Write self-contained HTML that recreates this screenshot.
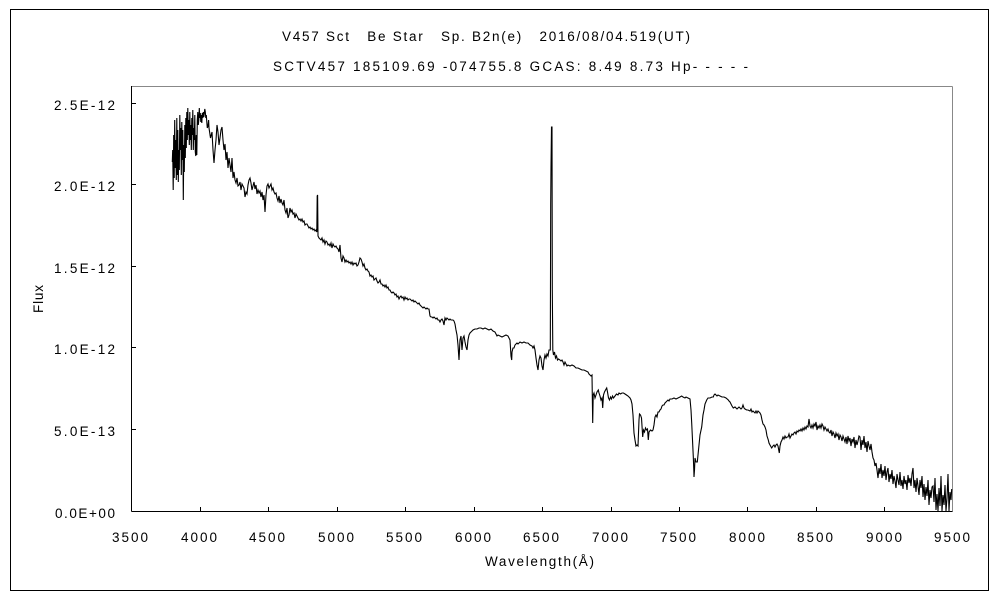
<!DOCTYPE html>
<html>
<head>
<meta charset="utf-8">
<style>
html,body{margin:0;padding:0;background:#fff;}
svg{display:block;}
text{font-family:"Liberation Sans","Noto Sans CJK JP",sans-serif;fill:#000;}
</style>
</head>
<body>
<svg width="1000" height="600" viewBox="0 0 1000 600" xmlns="http://www.w3.org/2000/svg">
<rect x="0" y="0" width="1000" height="600" fill="#fff"/>
<!-- outer frame -->
<rect x="10.5" y="9.5" width="978" height="581" fill="none" stroke="#000" stroke-width="1"/>

<!-- titles -->
<text x="282" y="41" font-size="13.5" textLength="408" lengthAdjust="spacing" xml:space="preserve">V457 Sct   Be Star   Sp. B2n(e)   2016/08/04.519(UT)</text>
<text x="273" y="71" font-size="13.5" textLength="475" lengthAdjust="spacing" xml:space="preserve">SCTV457 185109.69 -074755.8 GCAS: 8.49 8.73 Hp- - - - -</text>

<!-- plot frame -->
<line x1="131.5" y1="86.5" x2="952.5" y2="86.5" stroke="#888" stroke-width="1"/>
<line x1="952.5" y1="86.5" x2="952.5" y2="511.5" stroke="#888" stroke-width="1"/>
<line x1="131.5" y1="86" x2="131.5" y2="511.5" stroke="#000" stroke-width="1"/>
<line x1="131.5" y1="511.5" x2="952.5" y2="511.5" stroke="#000" stroke-width="1"/>

<!-- y ticks -->
<g stroke="#000" stroke-width="1" shape-rendering="crispEdges">
<line x1="131" y1="103.5" x2="136" y2="103.5"/>
<line x1="131" y1="184.5" x2="136" y2="184.5"/>
<line x1="131" y1="266.5" x2="136" y2="266.5"/>
<line x1="131" y1="347.5" x2="136" y2="347.5"/>
<line x1="131" y1="429.5" x2="136" y2="429.5"/>
</g>
<!-- x ticks -->
<g stroke="#000" stroke-width="1" shape-rendering="crispEdges">
<line x1="200.5" y1="507" x2="200.5" y2="511"/>
<line x1="268.5" y1="507" x2="268.5" y2="511"/>
<line x1="337.5" y1="507" x2="337.5" y2="511"/>
<line x1="405.5" y1="507" x2="405.5" y2="511"/>
<line x1="474.5" y1="507" x2="474.5" y2="511"/>
<line x1="542.5" y1="507" x2="542.5" y2="511"/>
<line x1="611.5" y1="507" x2="611.5" y2="511"/>
<line x1="679.5" y1="507" x2="679.5" y2="511"/>
<line x1="747.5" y1="507" x2="747.5" y2="511"/>
<line x1="816.5" y1="507" x2="816.5" y2="511"/>
<line x1="884.5" y1="507" x2="884.5" y2="511"/>
</g>

<!-- y labels -->
<g font-size="13.5" text-anchor="end">
<text x="115" y="110" textLength="61" lengthAdjust="spacing">2.5E-12</text>
<text x="115" y="191" textLength="61" lengthAdjust="spacing">2.0E-12</text>
<text x="115" y="273" textLength="61" lengthAdjust="spacing">1.5E-12</text>
<text x="115" y="354" textLength="61" lengthAdjust="spacing">1.0E-12</text>
<text x="115" y="436" textLength="61" lengthAdjust="spacing">5.0E-13</text>
<text x="115" y="518" textLength="60" lengthAdjust="spacing">0.0E+00</text>
</g>
<!-- x labels -->
<g font-size="13.5">
<text x="112" y="542" textLength="36" lengthAdjust="spacing">3500</text>
<text x="181" y="542" textLength="36" lengthAdjust="spacing">4000</text>
<text x="249" y="542" textLength="36" lengthAdjust="spacing">4500</text>
<text x="318" y="542" textLength="36" lengthAdjust="spacing">5000</text>
<text x="386" y="542" textLength="36" lengthAdjust="spacing">5500</text>
<text x="455" y="542" textLength="36" lengthAdjust="spacing">6000</text>
<text x="523" y="542" textLength="36" lengthAdjust="spacing">6500</text>
<text x="592" y="542" textLength="36" lengthAdjust="spacing">7000</text>
<text x="660" y="542" textLength="36" lengthAdjust="spacing">7500</text>
<text x="729" y="542" textLength="36" lengthAdjust="spacing">8000</text>
<text x="797" y="542" textLength="36" lengthAdjust="spacing">8500</text>
<text x="866" y="542" textLength="36" lengthAdjust="spacing">9000</text>
<text x="934" y="542" textLength="36" lengthAdjust="spacing">9500</text>
</g>

<!-- axis titles -->
<text x="485" y="566" font-size="13.5" textLength="109" lengthAdjust="spacing">Wavelength(Å)</text>
<text transform="translate(43,313) rotate(-90)" font-size="13.5" textLength="28" lengthAdjust="spacing">Flux</text>

<!-- spectrum -->
<polyline fill="none" stroke="#000" stroke-width="1.1" stroke-linejoin="miter" points="
172.3,162 172.7,150 173.2,190 173.7,135 174.2,178 174.7,120 175.2,168 175.7,140 176.3,180 176.8,118 177.3,175 177.8,130 178.3,182 178.8,150 179.3,170 179.8,115 180.3,150 180.8,128 181.3,175 181.8,122 182.3,160 182.8,130 183.3,200 183.8,145 184.3,172 184.8,125 185.3,158 185.8,118 186.3,148 186.8,112 187.3,140 187.8,108 188.3,135 188.8,120 189.3,145 189.8,112 190.3,140 190.8,125 191.3,150 191.8,118 192.3,135 192.8,110 193.3,150 193.8,128 194.3,140 194.8,115 195.3,152 195.8,156 196.3,135 196.8,155 197.3,120 197.8,112 198.3,125 198.8,120 199.3,108 199.8,118 200.3,113 200.8,122 201.3,115 201.8,123 202.3,113 202.8,118 203.3,112 203.8,117 204.3,113 204.8,109 205.3,112 205.8,118 206.3,115 206.8,122 207.3,128 208,126 208.6,120 209,128
210.5,138 212,132 213,150 214,163 215,150 216,140 217,125 218,132 219,145 220,138 221,130 222,127 223,140 224,150 225,144 226,160 227,152 228,168 229,158 230,165 231,172 232,158 233,178 234,172 235,180 236,183 237,178 238,186 239,185 240,182 241,190 242,184 243,186 244,188 245,197 246,192 247,194 248,185 249,180 250,178 251,183 252,190 253,186 254,182 255,189 256,185 257,194 258,190 259,193 260,191 261,197 262,192 263,200 264,195 265,212 266,195 267,186 268,184 269,188 270,186 271,184 272,190 273,188 274,192 275,194 276,193 277,198 278,201 279,196 280,203 281,199 282,203 283,205 284,200 285,210 286,213 287,208 288,218 289,215 290,208 291,212 292,210 293,214 294,213 295,218 296,214 297,216 298,218 299,220 300,219 301,221 302,219 303,222 304,221 305,225 306,224 307,224 308,226 309,228 310,227 311,229 312,228 313,230 314,229 315,231 316,230 316.8,232 317.2,196 317.6,195 318,236 319,238 320,239 321,240 322,238 323,242 324,240 325,244 326,241 327,242 328,245 329,244 330,246 331,243 332,248 333,244 334,246 335,247 336,246 337,248 338,249 339,252 340,245
341,258 342,262 343,256 344,258 345,262 346,260 347,262 348,261 349,263 350,262 351,264 352,262 353,265 354,263 355,264 356,263 357,266 358,265 359,262 360,258 361,259 362,262 363,266 364,264 365,268 366,270 367,269 368,271 369,272 370,276 371,275 372,277 373,276 374,280 375,279 376,278 377,281 378,283 379,282 380,280 381,284 382,284 383,286 384,285 385,287 386,285 387,288 388,287 389,290 390,290 391,292 392,293 393,292 394,293 395,295 396,294 397,297 398,296 399,299 400,297 401,296 402,298 403,297 404,300 405,297 406,299 407,298 408,300 409,299 410,299 411,300 412,301 413,300 414,302 415,301 416,302 417,303 418,304 419,303 420,305 421,306 422,307 423,308 424,307 425,308 426,309 427,308 428,309 429,309 430,316 431,317 432,317 433,318 434,317 435,318 436,319 437,318 438,320 439,320 440,322 441,320 442,319 443,321 444,325 445,318 446,320 447,318 448,319 449,320 450,319 451,320 452,320 453,320 454,321 455,324 456,330 457,335 458,345 459,360 459.6,348 460,340 461,336 462,350 463,338 464,336 465,342 466,347 467,350 468,340 469,335 470,333 471,332 472,331 473,330 475,329 477,329 479,328 481,328 483,329 485,328 487,329 489,330 491,329 493,331 495,332 496,334 497,336 498,335 500,336 502,337 504,336 506,335 508,336 510,340 511,356 511.7,360 512,352 513,348 514,348 515,345 516,344 517,343 518,344 520,342 522,343 524,342 526,343 528,343 530,345 532,346 533,348 534,346 535,350 536,358 537,365 538,370 539,360 540,356 541,358 542,366 543,370 544,360 545,355 546,358 547,354 548,356 549,350 550.3,350 550.7,205 551,167 551.5,127 552,127 552.3,290 552.8,350 553.5,355 554.5,352 555.5,358 556.5,356 557.5,360 558.5,359 560,360 561,361 562,360 563,362 564,365 565,362 566,364 567,366 568,365 570,366 572,365 574,366 576,368 578,368 580,369 582,370 584,370 586,371 588,372 589,374 590,375 591,376 592,375
592.7,423 593.2,395 594,393 595,398 596,395 597,392 598.3,390 599,393 600,396 601,400 602,398 602.7,408 603.5,395 604.5,392 605.5,390 606.7,388 607.5,392 608.5,398 609.5,400 610.5,397 611.5,399 612.5,396 613.5,398 615,396 616.5,394 618,395 619,393 620.5,394 622,393 623.5,393 625,394 626.5,395 628,396 630,398 631,400 632,404 633,415 634,433 635,440 636,446 637,445 638,446 639,420 639.5,414 640.5,415 641.5,418 642.7,437 643.5,430 644.5,432 645.5,428 646.5,430 647.5,429 648.3,440 649,432 650.5,430 652,431 653,430 654,425 655,417 656,415 657,417 658,412 659,412 660,410 661,409 662,406 663,405 664,405 665,403 666,402 667,401 668,400 669,401 670,399 672,399 674,398 676,399 678,398 680,397 681.7,396 683,397 685,398 686,397 688,398 690,399 691,410 691.7,423 692.5,440 693.3,457 693.8,470 694,477 694.5,470 695,458 696,462 697.3,462 698,455 699,445 700,435 701.7,427 703,415 704,410 705,404 706.7,400 708,398 710,398 712,397 713.3,397 714,395 715,394 716,395 717,396 718,395 720,396 722,397 724,397 726,398 728.3,400 729,401 730,402 731,404 732,406 733.3,408 735,407 737,409 739,407 741,409 742,408 743,405 744,408 745,409 746.7,410 748,410 750,411 751,409 752,412 753,411 754,412 755,413 756,411 757,413 758,411 760,413 761,415 762,420 763,424 764,425 765,427 766,430 767,436 768.3,440 769,443 770,445 771.7,448 773,446 774,445 775,447 776,445 777,444 778,446 779.3,453 780,446 781,442 782,440 783,437 784,439 785,436 786,438 787,437 788,437 789,434 790,438 791,436 792,434 793,435 794,433 795,432 796,434 797,431 798,432 799,430 800,431
801,429 802,431 803,428 804,430 805,427 806,429 807,426 808,427 809,419 810,426 811,428 812,425 813,428 814,424 815,426 816,422 817,430 818,426 819,428 820,425 821,428 822,424 823,426 824,430 825,427 826,429 827,431 828,429 829,432 830,433 831,430 832,436 833,432 834,434 835,438 836,433 837,436 838,434 839,440 840,435 841,437 842,441 843,436 844,439 845,442 846,437 847,444 848,436 849,441 850,438 851,446 852,439 853,442 854,437 855,448 856,440 857,445 858,441 859,436 860,437 861,450 862,440 863,445 864,436 865,448 866,442 867,452 868,441 869,446 870,450 871,444 872,452 873,458 874,460 875,466 876,463 877,470 878,478 879,468 880,474 881,464 882,478 883,470 884,476 885,466 886,480 887,472 888,468 889,482 890,474 891,479 892,470 893,484 894,476 895,481 896,488 897,474 898,480 899,485 900,472 901,486 902,480 903,489 904,476 905,484 906,480 907,490 908,475 909,483 910,478 911,486 912,474 913,468 914,488 915,480 916,492 917,478 918,486 919,495 920,480 921,488 922,476 923,497 924,484 925,500 926,487 927,496 928,480 929,505 930,490 931,498 932,487 933,486 934,502 935,478 936,510 937,494 938,511 939,488 940,506 941,476 942,511 943,495 944,505 945,485 946,511 947,498 948,474 949,511 950,492 951,500 951.7,489"/>
</svg>
</body>
</html>
